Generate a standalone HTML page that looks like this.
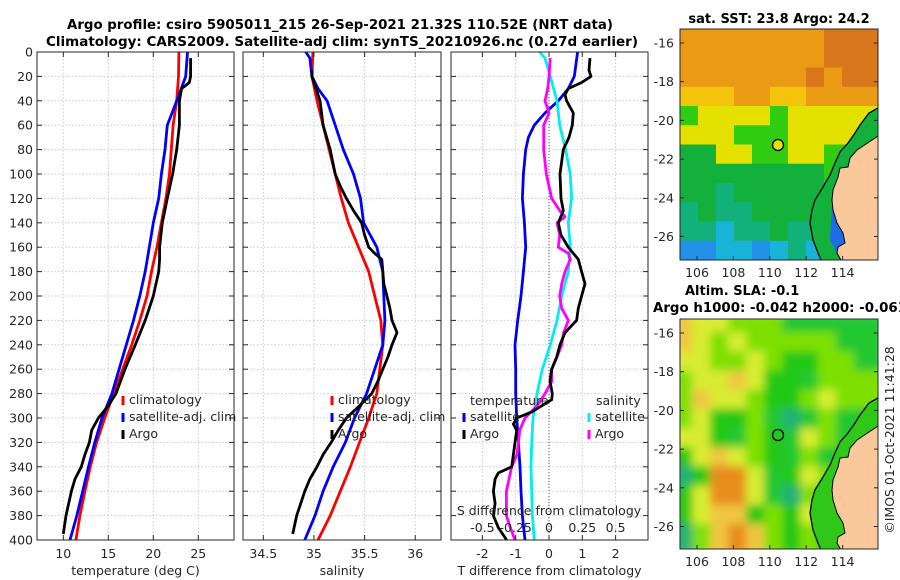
<!DOCTYPE html>
<html><head><meta charset="utf-8">
<style>
html,body{margin:0;padding:0;background:#fff;}
svg{display:block;font-family:"DejaVu Sans","Liberation Sans",sans-serif;}
</style></head>
<body>
<svg id="fig" width="900" height="580" viewBox="0 0 900 580" xmlns="http://www.w3.org/2000/svg">
<defs>
<filter id="blur" x="0" y="0" width="1" height="1"><feGaussianBlur stdDeviation="4.5"/></filter>
<clipPath id="clipM1"><rect x="680" y="29" width="198" height="231"/></clipPath>
<clipPath id="clipM2"><rect x="680" y="319" width="198" height="230"/></clipPath>
</defs>
</svg>
<script>
// ---------- data ----------
const tDepth = [0,20,40,60,80,100,120,140,160,180,200,220,240,260,280,300,320,340,360,380,400];
const tClim = [22.85,22.8,22.6,22.2,22.0,21.8,21.4,20.9,20.4,19.8,19.3,18.5,17.6,16.6,15.6,14.6,13.7,13.0,12.4,11.85,11.4];
const tSat = [23.8,23.6,22.6,21.56,21.3,20.9,20.6,20.0,19.56,19.1,18.5,17.8,17.0,16.2,15.4,14.3,13.5,12.8,12.15,11.5,10.75];
const argoDepthT = [5,20,25,30,40,60,80,100,120,140,160,170,180,200,220,240,260,280,290,300,310,320,330,340,350,360,380,395];
const tArgo = [24.15,24.15,24.0,23.15,22.9,22.9,22.6,22.15,21.56,21.0,20.7,20.7,20.6,20.0,19.1,18.0,16.85,15.85,15.0,13.9,13.15,12.9,12.4,12.0,11.3,10.9,10.3,10.0];

const sDepth = [0,20,40,60,80,100,120,140,160,180,200,220,240,260,280,300,320,340,360,380,400];
const sClim = [34.99,34.98,35.03,35.09,35.15,35.21,35.27,35.34,35.44,35.54,35.6,35.66,35.68,35.65,35.62,35.54,35.45,35.36,35.26,35.16,35.04];
const satDepthS = [0,5,20,30,40,60,80,100,120,140,160,180,200,220,240,260,280,300,320,340,360,380,400];
const sSat = [34.92,34.96,34.98,35.04,35.13,35.21,35.29,35.39,35.46,35.49,35.62,35.68,35.69,35.7,35.68,35.6,35.52,35.4,35.31,35.19,35.09,35.01,34.91];
const argoDepthS = [15,20,30,40,60,80,100,110,120,130,140,150,160,165,170,180,190,200,210,220,230,240,250,260,270,280,290,300,310,320,330,340,350,360,380,395];
const sArgo = [34.98,34.98,35.02,35.06,35.09,35.16,35.21,35.26,35.32,35.39,35.47,35.5,35.54,35.6,35.67,35.68,35.69,35.72,35.75,35.77,35.82,35.77,35.73,35.68,35.63,35.57,35.45,35.32,35.24,35.17,35.09,35.03,34.96,34.91,34.83,34.79];

const dtSatDepth = [0,20,30,40,50,60,70,80,100,120,140,160,180,200,220,240,260,280,300,320,340,360,380,400];
const dtSat = [0.86,0.76,0.58,0.28,-0.12,-0.44,-0.62,-0.7,-0.77,-0.8,-0.74,-0.7,-0.77,-0.84,-0.94,-1.02,-1.0,-1.0,-0.97,-0.92,-0.87,-0.84,-0.8,-0.72];
const dtArgoDepth = [5,15,20,25,30,35,40,50,60,70,80,100,120,130,140,150,160,170,180,190,200,210,220,230,240,250,260,270,280,285,290,295,300,305,310,320,330,340,345,350,360,370,380,390,400];
const dtArgo = [1.23,1.2,1.26,0.98,0.58,0.48,0.53,0.73,0.7,0.6,0.43,0.33,0.36,0.43,0.28,0.36,0.58,0.88,0.98,1.08,0.98,0.88,0.83,0.48,0.33,0.23,0.08,0.03,0.1,0.08,-0.22,-0.52,-0.97,-1.07,-0.97,-1.02,-1.07,-1.12,-1.52,-1.62,-1.67,-1.62,-1.67,-1.52,-1.27];
const dsSatDepth = [0,5,20,40,60,80,100,120,140,160,180,200,220,240,260,280,300,320,340,360,380,400];
const dsSat = [-0.07,-0.03,0.01,0.06,0.08,0.125,0.16,0.17,0.145,0.16,0.145,0.095,0.06,0.01,-0.05,-0.09,-0.12,-0.13,-0.135,-0.13,-0.125,-0.11];
const dsArgoDepth = [5,20,30,40,50,60,80,100,120,130,135,140,150,160,165,170,180,190,200,210,220,230,240,250,260,270,280,290,300,310,320,330,340,350,360,380,390,400];
const dsArgo = [0.01,0,-0.01,-0.03,0,-0.04,-0.04,-0.02,0.02,0.08,0.12,0.06,0.08,0.07,0.145,0.16,0.12,0.095,0.08,0.095,0.145,0.11,0.095,0.06,0.02,0.02,-0.03,-0.09,-0.18,-0.22,-0.23,-0.24,-0.28,-0.3,-0.32,-0.32,-0.29,-0.255];

const depthTicks = [0,20,40,60,80,100,120,140,160,180,200,220,240,260,280,300,320,340,360,380,400];
const tTicks = [10,15,20,25];
const sTicks = [34.5,35,35.5,36];
const dtTicks = [-2,-1,0,1,2];
const dsTicks = [-0.5,-0.25,0,0.25,0.5];
const dsTickLabels = ['-0.5','-0.25','0','0.25','0.5'];
const latTicks = [-16,-18,-20,-22,-24,-26];
const lonTicks = [106,108,110,112,114];

// ---------- helpers ----------
const NS = 'http://www.w3.org/2000/svg';
const svg = document.getElementById('fig');
function el(tag, attrs, name, inter, parent) {
  const e = document.createElementNS(NS, tag);
  for (const k in attrs) e.setAttribute(k, attrs[k]);
  
  
  (parent || svg).appendChild(e);
  return e;
}
function txt(x, y, s, attrs, name, parent) {
  const a = Object.assign({x: x, y: y, 'font-size': 12, fill: '#262626'}, attrs || {});
  const e = el('text', a, name, false, parent);
  e.textContent = s;
  return e;
}
const Y0 = 52, PXM = 1.22;
const yD = d => Y0 + d * PXM;

// ---------- titles ----------
txt(340, 29, 'Argo profile: csiro 5905011_215 26-Sep-2021 21.32S 110.52E (NRT data)', {'text-anchor': 'middle', 'font-weight': 'bold', 'font-size': 13, fill: '#000', textLength: 546, lengthAdjust: 'spacingAndGlyphs'}, 'title-line-1');
txt(342, 46, 'Climatology: CARS2009. Satellite-adj clim: synTS_20210926.nc (0.27d earlier)', {'text-anchor': 'middle', 'font-weight': 'bold', 'font-size': 13, fill: '#000', textLength: 592, lengthAdjust: 'spacingAndGlyphs'}, 'title-line-2');

// ---------- profile panel builder ----------
function panel(opts) {
  const g = el('g', {}, opts.name, false);
  el('rect', {x: opts.x0, y: Y0, width: opts.x1 - opts.x0, height: 488, fill: '#fff'}, opts.name + '-background', false, g);
  depthTicks.forEach(d => {
    el('line', {x1: opts.x0, x2: opts.x1, y1: yD(d), y2: yD(d), stroke: '#c5c9e6', 'stroke-width': 1, 'stroke-dasharray': '1.5,2'}, 'depth-gridline', false, g);
  });
  opts.ticks.forEach(v => {
    const x = opts.sx(v);
    el('line', {x1: x, x2: x, y1: Y0, y2: Y0 + 488, stroke: '#c5c9e6', 'stroke-width': 1, 'stroke-dasharray': '1.5,2'}, 'x-gridline', false, g);
  });
  if (opts.zero) el('line', {x1: opts.sx(0), x2: opts.sx(0), y1: Y0, y2: Y0 + 488, stroke: '#555', 'stroke-width': 1, 'stroke-dasharray': '1,2'}, 'zero-line', false, g);
  opts.series.forEach(s => {
    const pts = s.v.map((v, i) => s.sx(v).toFixed(1) + ',' + yD(s.d[i]).toFixed(1)).join(' ');
    el('polyline', {points: pts, fill: 'none', stroke: s.c, 'stroke-width': 2.8, 'stroke-linejoin': 'round'}, s.name, false, g);
  });
  depthTicks.forEach(d => {
    el('line', {x1: opts.x0, x2: opts.x0 + 5, y1: yD(d), y2: yD(d), stroke: '#262626'}, 'y-tick', false, g);
    el('line', {x1: opts.x1 - 5, x2: opts.x1, y1: yD(d), y2: yD(d), stroke: '#262626'}, 'y-tick-right', false, g);
  });
  opts.ticks.forEach((v, i) => {
    const x = opts.sx(v);
    el('line', {x1: x, x2: x, y1: Y0 + 488, y2: Y0 + 483, stroke: '#262626'}, 'x-tick', false, g);
    el('line', {x1: x, x2: x, y1: Y0, y2: Y0 + 5, stroke: '#262626'}, 'x-tick-top', false, g);
    txt(x, 558, opts.labels ? opts.labels[i] : String(v), {'text-anchor': 'middle', 'font-size': 12.5}, 'x-tick-label', g);
  });
  el('rect', {x: opts.x0, y: Y0, width: opts.x1 - opts.x0, height: 488, fill: 'none', stroke: '#262626', 'stroke-width': 1}, opts.name + '-frame', false, g);
  txt((opts.x0 + opts.x1) / 2, 575, opts.xlabel, {'text-anchor': 'middle', 'font-size': 12.5}, 'x-axis-title', g);
  return g;
}
function legendEntry(g, x, y, color, label) {
  const e = el('g', {}, 'legend-entry', true, g);
  el('line', {x1: x, x2: x, y1: y - 6, y2: y + 3, stroke: color, 'stroke-width': 3}, 'legend-swatch', false, e);
  txt(x + 6, y + 2, label, {'font-size': 12.5}, 'legend-label', e);
}

const xT = v => 63.3 + (v - 10) * 9;
const xS = v => 263.3 + (v - 34.5) * 101.3;
const xDT = v => 549 + v * 33.3;
const xDS = v => 549 + v * 133.2;

const p1 = panel({name: 'temperature-panel', x0: 37, x1: 234, sx: xT, ticks: tTicks, xlabel: 'temperature (deg C)',
  series: [{v: tClim, d: tDepth, sx: xT, c: '#ff0000', name: 'temp-climatology-line'},
           {v: tSat, d: tDepth, sx: xT, c: '#0000ff', name: 'temp-satellite-line'},
           {v: tArgo, d: argoDepthT, sx: xT, c: '#000000', name: 'temp-argo-line'}]});
depthTicks.forEach(d => txt(33, yD(d) + 4.5, String(d), {'text-anchor': 'end', 'font-size': 12.5}, 'y-tick-label', p1));
legendEntry(p1, 123, 402, '#ff0000', 'climatology');
legendEntry(p1, 123, 419, '#0000ff', 'satellite-adj. clim');
legendEntry(p1, 123, 436, '#000000', 'Argo');

const p2 = panel({name: 'salinity-panel', x0: 243, x1: 441, sx: xS, ticks: sTicks, xlabel: 'salinity',
  series: [{v: sClim, d: sDepth, sx: xS, c: '#ff0000', name: 'sal-climatology-line'},
           {v: sSat, d: satDepthS, sx: xS, c: '#0000ff', name: 'sal-satellite-line'},
           {v: sArgo, d: argoDepthS, sx: xS, c: '#000000', name: 'sal-argo-line'}]});
legendEntry(p2, 332, 402, '#ff0000', 'climatology');
legendEntry(p2, 332, 419, '#0000ff', 'satellite-adj. clim');
legendEntry(p2, 332, 436, '#000000', 'Argo');

const p3 = panel({name: 'difference-panel', x0: 451, x1: 648, sx: xDT, ticks: dtTicks, zero: true, xlabel: 'T difference from climatology',
  series: [{v: dtSat, d: dtSatDepth, sx: xDT, c: '#0000ee', name: 'dT-satellite-line'},
           {v: dsSat, d: dsSatDepth, sx: xDS, c: '#00eeee', name: 'dS-satellite-line'},
           {v: dsArgo, d: dsArgoDepth, sx: xDS, c: '#ff00ff', name: 'dS-argo-line'},
           {v: dtArgo, d: dtArgoDepth, sx: xDT, c: '#000000', name: 'dT-argo-line'}]});
txt(470, 405, 'temperature', {'font-size': 12.5}, 'legend-title-temperature', p3);
legendEntry(p3, 464, 419, '#0000ee', 'satellite');
legendEntry(p3, 464, 436, '#000000', 'Argo');
txt(596, 405, 'salinity', {'font-size': 12.5}, 'legend-title-salinity', p3);
legendEntry(p3, 589, 419, '#00eeee', 'satellite');
legendEntry(p3, 589, 436, '#ff00ff', 'Argo');
txt(549, 515, 'S difference from climatology', {'text-anchor': 'middle', 'font-size': 12.5}, 'secondary-x-axis-title', p3);
dsTicks.forEach((v, i) => txt(xDS(v), 532, dsTickLabels[i], {'text-anchor': 'middle', 'font-size': 12.5}, 'secondary-x-tick-label', p3));

// ---------- maps ----------
const sstPal = {O: '#d8761c', o: '#eb9a14', Y: '#f4c40c', y: '#e4e000', G: '#30cc10', g: '#14b03c', t: '#12b07a', c: '#18b4d8', b: '#2090e8'};
const sstRows = [
 'ooooooooOOO','ooooooooOOO','oooooooOoOO','YYYooYYoooo','GyyyyGyyyyy','yyyGGGyyyyG',
 'ggyyGGyyGGG','ggggggggGGG','ggtggggggGG','tgttgggggGG','ttcttgttbbb','bbccbctcbbb'];
const slaPal = {O: '#e88c1c', Y: '#f0c640', y: '#d8ec30', l: '#7ee000', G: '#22c818', g: '#22c830', t: '#20b078'};
const slaRows = [
 'Yyylllggggg','Yylylllllgg','yyllylGGllg','lyyYyGGglll','lYyylGGlyll','lyGGlgtglgg',
 'yyGglGgylgg','GyYylGglggg','tGOOygGylgg','GyOOygtlGgg','GyYYGlGyGgg','tlYOYlGlGgg'];

function drawMap(name, top, rows, pal, blur, circleFill) {
  const g = el('g', {'clip-path': 'url(#clipM' + (top < 100 ? 1 : 2) + ')'}, name, false);
  const inner = el('g', blur ? {filter: 'url(#blur)'} : {}, name + '-field', false, g);
  const ch = (top < 100 ? 231 : 230) / 12;
  rows.forEach((r, i) => {
    for (let j = 0; j < r.length; j++) {
      el('rect', {x: 680 + j * 18 - (blur ? 6 : 0), y: top + i * ch - (blur ? 6 : 0), width: 18 + (blur ? 12 : 0.5), height: ch + (blur ? 12 : 0.5), fill: pal[r[j]]}, 'map-cell', false, inner);
    }
  });
  const dy = top - 29;
  const tr = 'translate(0,' + dy + ')';
  el('path', {d: 'M878,108 L869,113 L860,125 L855,133 L848,143 L840,152 L835,163 L830,175 L823,187 L815,200 L812,210 L810,223 L813,240 L818,253 L822,262 L878,262 Z', fill: blur ? '#30c818' : '#14b03c', transform: tr}, name + '-shelf', false, g);
  el('path', {d: 'M832,205 L845,212 L848,232 L846,250 L838,256 L830,240 Z', fill: blur ? '#30c818' : '#1d6ee6', transform: tr}, name + '-bay', false, g);
  el('path', {d: 'M878,136 L857,150 L850,158 L848,167 L840,168 L838,177 L833,190 L832,200 L833,210 L837,223 L843,233 L845,243 L838,247 L837,253 L842,262 L878,262 Z', fill: '#f9c99c', stroke: '#000', 'stroke-width': 1, transform: tr}, name + '-land', false, g);
  el('path', {d: 'M878,108 L869,113 L860,125 L855,133 L848,143 L840,152 L835,163 L830,175 L823,187 L815,200 L812,210 L810,223 L813,240 L818,253 L822,262', fill: 'none', stroke: '#000', 'stroke-width': 1.3, transform: tr}, name + '-isobath', false, g);
  el('circle', {cx: 778, cy: 145 + dy, r: 5.5, fill: circleFill, stroke: '#000', 'stroke-width': 1.3}, name + '-argo-location', true, svg);
  const h = top < 100 ? 231 : 230;
  el('rect', {x: 680, y: top, width: 198, height: h, fill: 'none', stroke: '#262626'}, name + '-frame', false);
  latTicks.forEach(v => {
    const y = 43 + (-16 - v) * 19.35 + dy;
    el('line', {x1: 680, x2: 684, y1: y, y2: y, stroke: '#262626'}, 'lat-tick', false);
    el('line', {x1: 874, x2: 878, y1: y, y2: y, stroke: '#262626'}, 'lat-tick-right', false);
    txt(674, y + 4.5, String(v), {'text-anchor': 'end', 'font-size': 12.5}, 'lat-tick-label');
  });
  lonTicks.forEach(v => {
    const x = 697 + (v - 106) * 18.2;
    el('line', {x1: x, x2: x, y1: top + h, y2: top + h - 4, stroke: '#262626'}, 'lon-tick', false);
    txt(x, top + h + 17, String(v), {'text-anchor': 'middle', 'font-size': 12.5}, 'lon-tick-label');
  });
}
drawMap('sst-map', 29, sstRows, sstPal, false, '#e4e000');
drawMap('sla-map', 319, slaRows, slaPal, true, 'none');
txt(779, 23, 'sat. SST: 23.8 Argo: 24.2', {'text-anchor': 'middle', 'font-weight': 'bold', 'font-size': 13, fill: '#000'}, 'sst-map-title');
txt(685, 295, 'Altim. SLA: -0.1', {'font-weight': 'bold', 'font-size': 13, fill: '#000'}, 'sla-map-title');
txt(653, 312, 'Argo h1000: -0.042 h2000: -0.061', {'font-weight': 'bold', 'font-size': 13, fill: '#000', textLength: 254, lengthAdjust: 'spacingAndGlyphs'}, 'sla-map-subtitle');
txt(0, 0, '\u00a9IMOS 01-Oct-2021 11:41:28', {'text-anchor': 'middle', 'font-size': 12.5, transform: 'translate(894,440) rotate(-90)'}, 'imos-timestamp');
</script>
</body></html>
